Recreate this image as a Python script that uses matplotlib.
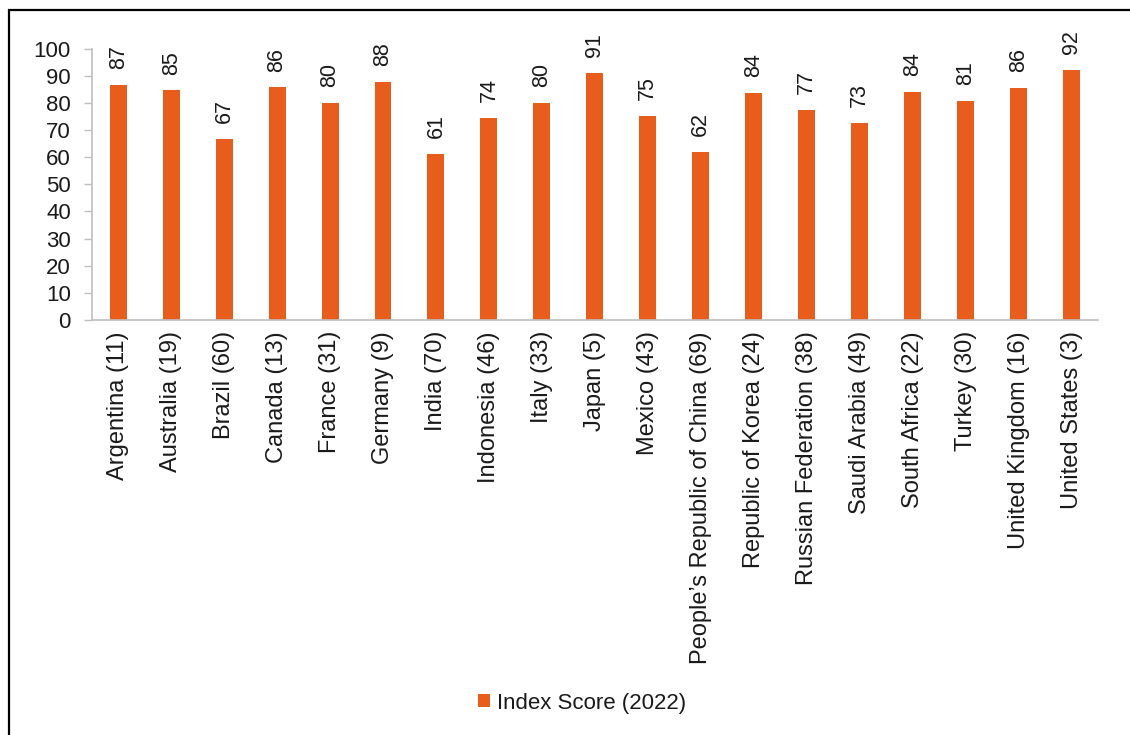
import matplotlib
matplotlib.use('Agg')
import matplotlib.pyplot as plt
from matplotlib.patches import Rectangle, Patch

# Index Score (2022) by country (rank in brackets)
countries = ['Argentina (11)', 'Australia (19)', 'Brazil (60)', 'Canada (13)', 'France (31)',
             'Germany (9)', 'India (70)', 'Indonesia (46)', 'Italy (33)', 'Japan (5)',
             'Mexico (43)', 'People\u2019s Republic of China (69)', 'Republic of Korea (24)',
             'Russian Federation (38)', 'Saudi Arabia (49)', 'South Africa (22)', 'Turkey (30)',
             'United Kingdom (16)', 'United States (3)']
scores = [86.8, 84.6, 66.6, 85.7, 80.1, 87.6, 61.2, 74.3, 79.9, 91.0,
          75.2, 61.8, 83.6, 77.3, 72.6, 84.0, 80.6, 85.6, 92.1]
yticks = list(range(0, 101, 10))

ORANGE = '#E85D1C'
GRID = '#BFBFBF'
TXT = '#1A1A1A'

plt.rcParams['font.family'] = ['Liberation Sans', 'DejaVu Sans']

fig = plt.figure(figsize=(11.3, 7.35), dpi=100)
ax = fig.add_axes([91.7 / 1130, 1 - 320 / 735, (1098 - 91.7) / 1130, (320 - 48.7) / 735])

x = list(range(len(countries)))
bars = ax.bar(x, scores, width=0.32, color=ORANGE, label='Index Score (2022)')

for b, v in zip(bars, scores):
    ax.annotate(f'{v:.0f}', (b.get_x() + b.get_width() / 2, b.get_height()),
                xytext=(0, 11.5), textcoords='offset points', rotation=90,
                ha='center', va='bottom', fontsize=15.5, color=TXT, annotation_clip=False)

ax.set_xlim(-0.5, len(countries) - 0.5)
ax.set_ylim(0, 100)
ax.set_yticks(yticks)
ax.set_xticks(x)
ax.set_xticklabels(countries, rotation=90, fontsize=17, color=TXT)
ax.tick_params(axis='y', length=6, width=1, color=GRID, pad=9, labelsize=16, labelcolor=TXT)
ax.tick_params(axis='x', length=0, pad=8)

for s in ['top', 'right']:
    ax.spines[s].set_visible(False)
for s in ['left', 'bottom']:
    ax.spines[s].set_color(GRID)
    ax.spines[s].set_linewidth(1.2)

handle = Patch(facecolor=ORANGE)
fig.legend([handle], ['Index Score (2022)'], loc='center',
           bbox_to_anchor=(582 / 1130, 1 - 703 / 735), frameon=False, fontsize=16,
           handlelength=0.55, handleheight=0.55, handletextpad=0.3, labelcolor=TXT)

# outer frame
fig.patches.append(Rectangle((9 / 1130, -0.1), 1.2, 1 - 10.5 / 735 + 0.1,
                             transform=fig.transFigure, fill=False,
                             edgecolor='black', linewidth=1.6))

fig.savefig('out.png', dpi=100)
